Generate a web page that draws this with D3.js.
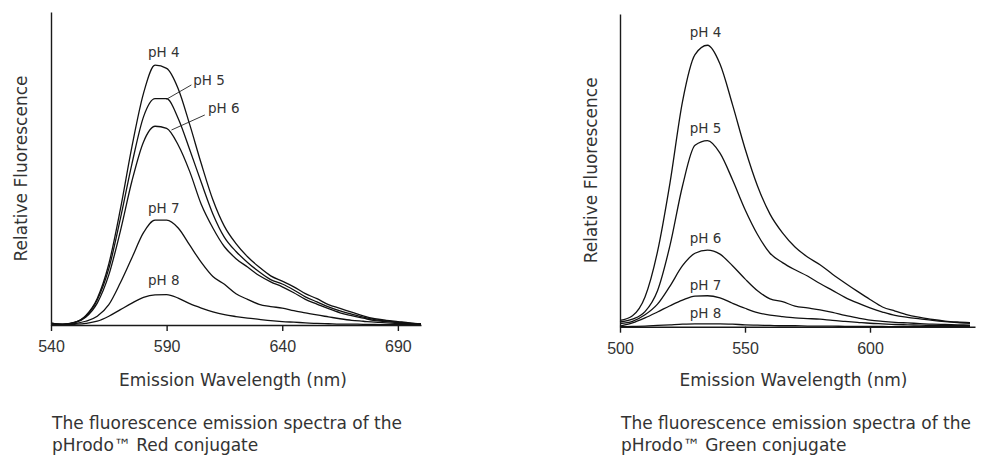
<!DOCTYPE html>
<meta charset="utf-8">
<style>
body { margin: 0; background: #fff; }
svg { font-family: "DejaVu Sans", sans-serif; }
.axis path, .axis line { stroke: #1a1a1a; stroke-width: 1.4; fill: none; }
.axis text { font-size: 16px; fill: #333; }
.spectrum { fill: none; stroke: #111; stroke-width: 1.3; }
.title { font-size: 17px; fill: #333; }
.phlabel { font-size: 13.5px; fill: #333; }
.leader { stroke: #222; stroke-width: 0.9; }
</style>
<body>
<div id="chart"></div>
<script src="https://d3js.org/d3.v7.min.js"></script>
<script>

// pHrodo Red: emission wavelengths (nm) and relative fluorescence per pH
var redWave = [540,545,550,555,560,565,570,575,580,585,590,595,600,605,610,615,620,
               625,630,635,640,645,650,655,660,665,670,675,680,685,690,695,700];
var redPH4 = [0.7,0.2,0.8,3.0,8.5,19.5,37,57,74,83,82,75.5,64,51.5,40,31.5,26,21.8,18.5,15.7,14,12.2,10,8.4,6.5,5.3,4.1,2.9,2,1.5,1.1,0.7,0.4];
var redPH5 = [0.5,0.3,0.8,2.8,8,18,34,51.5,66.5,72.3,72.3,66,56,45.5,35.5,28,23.5,20,17,14.5,13.1,11.2,9,7.4,5.8,4.5,3.5,2.5,1.7,1.3,0.9,0.6,0.3];
var redPH6 = [0.4,0.3,0.7,2.5,7,16,30,46,58.5,63.5,62.8,57.5,49,38.5,31,25,21.2,18.5,15.8,13.8,12.2,10.3,8.2,6.7,5.2,3.9,3,2.2,1.4,1.1,0.8,0.5,0.3];
var redPH7 = [0,0.1,0.4,1.2,2.8,6.5,13.5,21.5,29.5,33.5,33.5,31,25.5,20,15.5,13,10,8.2,6.6,5.9,5.4,4.6,3.9,3.2,2.6,2,1.5,1.2,0.9,0.7,0.5,0.4,0.3];
var redPH8 = [0,0,0.2,0.5,1.2,2.8,4.9,7,8.8,9.6,9.7,8.6,6.8,5.4,4.2,3.3,2.7,2.2,1.8,1.4,1.1,0.9,0.7,0.5,0.4,0.3,0.3,0.2,0.2,0.1,0.1,0.1,0.1];
var redTicks = [540, 590, 640, 690];

// pHrodo Green
var grnWave = [500,505,510,515,520,525,530,535,540,545,550,555,560,565,570,575,580,
               585,590,595,600,605,610,615,620,625,630,635,640];
var grnPH4 = [2,3.5,9.5,24,46,72,87,90,84,71,57,45,36,30,25.5,22.3,19.8,16.8,14,11.3,8.7,6.3,5,3.8,3,2.3,1.8,1.5,1.3];
var grnPH5 = [1.5,2.4,4.8,11.5,26,45,58,59.5,55.5,47,37.5,29.5,23.5,20.5,18.2,16.2,13.8,11.6,9.4,7.6,6,4.7,3.6,3,2.5,2,1.6,1.3,1.1];
var grnPH6 = [1,1.7,3.8,7.2,13,19.5,23.5,24.5,23.2,19.5,15.3,11.5,8.9,8,6.6,6,5.4,4.6,3.6,2.8,2.1,1.7,1.4,1.2,1,0.8,0.7,0.6,0.5];
var grnPH7 = [0.2,1.2,2.8,4.7,6.7,8.5,9.8,9.9,9.2,7.5,5.9,4.5,3.7,3.2,2.8,2.6,2.4,2,1.7,1.4,1.1,0.9,0.7,0.6,0.5,0.4,0.3,0.3,0.3];
var grnPH8 = [0,0.1,0.2,0.4,0.6,0.8,0.9,0.9,0.9,0.8,0.6,0.5,0.4,0.3,0.3,0.2,0.2,0.2,0.1,0.1,0.1,0.1,0,0,0,0,0,0,0];
var grnTicks = [500, 550, 600];

var phNames = ["pH 4", "pH 5", "pH 6", "pH 7", "pH 8"];

var svg = d3.select("#chart").append("svg")
    .attr("width", 982)
    .attr("height", 458);

function drawPanel(p) {
  var x = d3.scaleLinear().domain(p.xDomain).range([p.left, p.right]);
  var y = d3.scaleLinear().domain([0, 100]).range([p.bottom, p.top]);

  var line = d3.line()
      .x(function(d) { return x(d[0]); })
      .y(function(d) { return y(d[1]); })
      .curve(d3.curveMonotoneX);

  var g = svg.append("g");

  p.series.forEach(function(vals) {
    g.append("path")
      .attr("class", "spectrum")
      .attr("d", line(p.wave.map(function(w, i) { return [w, vals[i]]; })));
  });

  // labels, some with a leader line
  p.labels.forEach(function(l, i) {
    if (l.lead) {
      g.append("line")
        .attr("class", "leader")
        .attr("x1", x(l.lead[0])).attr("y1", y(l.lead[1]))
        .attr("x2", x(l.lead[2])).attr("y2", y(l.lead[3]));
    }
    g.append("text")
      .attr("class", "phlabel")
      .attr("x", x(l.at[0]))
      .attr("y", y(l.at[1]))
      .style("text-anchor", l.anchor || "middle")
      .text(phNames[i]);
  });

  g.append("g")
    .attr("class", "axis")
    .attr("transform", "translate(" + p.left + ",0)")
    .call(d3.axisLeft(y).ticks(0).tickSizeOuter(0));

  g.append("g")
    .attr("class", "axis")
    .attr("transform", "translate(0," + p.bottom + ")")
    .call(d3.axisBottom(x).tickValues(p.ticks).tickSize(6).tickSizeOuter(0).tickPadding(10)
      .tickFormat(d3.format("d")));

  g.append("text")
    .attr("class", "title")
    .attr("transform", "translate(" + p.yTitleX + "," + (p.top + p.bottom) / 2 + ") rotate(-90)")
    .attr("dy", "0.35em")
    .style("text-anchor", "middle")
    .text("Relative Fluorescence");

  g.append("text")
    .attr("class", "title")
    .attr("x", p.xTitleX)
    .attr("y", 386)
    .style("text-anchor", "middle")
    .text("Emission Wavelength (nm)");

  g.append("text")
    .attr("class", "title")
    .attr("x", p.left + 1)
    .attr("y", 429)
    .text("The fluorescence emission spectra of the");

  g.append("text")
    .attr("class", "title")
    .attr("x", p.left + 1)
    .attr("y", 451)
    .text(p.caption2);
}

drawPanel({
  wave: redWave,
  series: [redPH4, redPH5, redPH6, redPH7, redPH8],
  ticks: redTicks,
  xDomain: [540, 700],
  left: 51, right: 421, top: 12, bottom: 325,
  yTitleX: 21, xTitleX: 233,
  caption2: "pHrodo\u2122 Red conjugate",
  labels: [
    {at: [588.8, 85.5]},
    {at: [601.5, 76.7], anchor: "start", lead: [589.9, 72.1, 600.7, 76.7]},
    {at: [607.9, 67.6], anchor: "start", lead: [592.1, 62.3, 606.5, 67.1]},
    {at: [588.8, 35.7]},
    {at: [588.8, 12.8]}
  ]
});

drawPanel({
  wave: grnWave,
  series: [grnPH4, grnPH5, grnPH6, grnPH7, grnPH8],
  ticks: grnTicks,
  xDomain: [500, 642],
  left: 620, right: 975, top: 14, bottom: 326.7,
  yTitleX: 591, xTitleX: 793.5,
  caption2: "pHrodo\u2122 Green conjugate",
  labels: [
    {at: [534.2, 92.7]},
    {at: [534.2, 61.8]},
    {at: [534.2, 26.8]},
    {at: [534.2, 11.7]},
    {at: [534.2, 2.8]}
  ]
});

</script>
</body>
